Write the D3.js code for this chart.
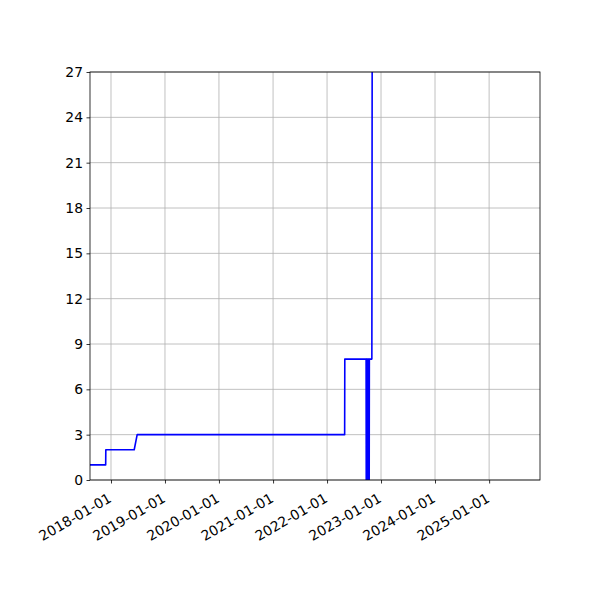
<!DOCTYPE html>
<html>
<head>
<meta charset="utf-8">
<script src="https://cdn.jsdelivr.net/npm/d3@7"></script>
<style>
  body { margin: 0; background: #fff; }
  svg { display: block; }
  .tick text { font-family: "DejaVu Sans", sans-serif; font-size: 13.9px; fill: #000; }
</style>
</head>
<body>
<svg id="chart" width="600" height="600"></svg>
<script>
// step series
const dates = [
  '2017-08-12', '2017-11-26', '2017-11-27', '2018-06-07', '2018-06-27',
  '2022-04-30', '2022-05-01', '2022-09-22', '2022-09-23', '2022-09-25',
  '2022-09-27', '2022-09-29', '2022-10-01', '2022-10-03', '2022-10-05',
  '2022-10-07', '2022-10-09', '2022-10-11', '2022-10-13', '2022-10-14',
  '2022-10-31', '2022-11-03'
]
const values = [
  1, 1, 2, 2, 3,
  3, 8, 8, 0, 8,
  0, 8, 0, 8, 0,
  8, 0, 8, 0, 8,
  8, 36
]
const xDomain = [ '2017-08-12', '2025-12-11' ]
const xTicks = [ '2018-01-01', '2019-01-01', '2020-01-01', '2021-01-01', '2022-01-01', '2023-01-01', '2024-01-01', '2025-01-01' ]
const yTicks = [ 0, 3, 6, 9, 12, 15, 18, 21, 24, 27 ]

const parse = d3.utcParse( '%Y-%m-%d' )
const margin = { top: 72, right: 60, bottom: 120, left: 90 }
const width = 600 - margin.left - margin.right
const height = 600 - margin.top - margin.bottom

const svg = d3.select( '#chart' )
const g = svg.append( 'g' ).attr( 'transform', `translate(${margin.left},${margin.top})` )

const x = d3.scaleUtc().domain( xDomain.map( parse ) ).range( [ 0, width ] )
const y = d3.scaleLinear().domain( [ 0, 27 ] ).range( [ height, 0 ] )

// grid
g.append( 'g' ).selectAll( 'line' ).data( xTicks.map( parse ) ).join( 'line' )
  .attr( 'x1', d => x( d ) ).attr( 'x2', d => x( d ) )
  .attr( 'y1', 0 ).attr( 'y2', height )
  .attr( 'stroke', '#b0b0b0' ).attr( 'stroke-width', 0.8 )
g.append( 'g' ).selectAll( 'line' ).data( yTicks ).join( 'line' )
  .attr( 'x1', 0 ).attr( 'x2', width )
  .attr( 'y1', d => y( d ) ).attr( 'y2', d => y( d ) )
  .attr( 'stroke', '#b0b0b0' ).attr( 'stroke-width', 0.8 )

// line, clipped to the axes box
svg.append( 'defs' ).append( 'clipPath' ).attr( 'id', 'clip' )
  .append( 'rect' ).attr( 'width', width ).attr( 'height', height )

const points = dates.map( ( d, i ) => [ parse( d ), values[i] ] )
g.append( 'path' )
  .datum( points )
  .attr( 'clip-path', 'url(#clip)' )
  .attr( 'fill', 'none' )
  .attr( 'stroke', '#0000ff' )
  .attr( 'stroke-width', 1.6 )
  .attr( 'stroke-linejoin', 'round' )
  .attr( 'd', d3.line().x( d => x( d[0] ) ).y( d => y( d[1] ) ) )

// axes
const xAxis = g.append( 'g' ).attr( 'transform', `translate(0,${height})` )
  .call( d3.axisBottom( x ).tickValues( xTicks.map( parse ) ).tickFormat( d3.utcFormat( '%Y-%m-%d' ) ).tickSize( 3.5 ).tickPadding( 3.5 ) )
xAxis.selectAll( '.tick text' )
  .attr( 'text-anchor', 'end' )
  .attr( 'dy', null )
  .attr( 'y', null )
  .attr( 'transform', 'translate(1,21) rotate(-30)' )

const yAxis = g.append( 'g' )
  .call( d3.axisLeft( y ).tickValues( yTicks ).tickSize( 3.5 ).tickPadding( 3.5 ) )

svg.selectAll( '.domain' ).remove()
svg.selectAll( '.tick line' ).attr( 'stroke', '#000' ).attr( 'stroke-width', 0.8 )
xAxis.attr( 'font-family', null )
yAxis.attr( 'font-family', null )

// spines
g.append( 'rect' )
  .attr( 'width', width ).attr( 'height', height )
  .attr( 'fill', 'none' ).attr( 'stroke', '#000' ).attr( 'stroke-width', 0.8 )
</script>
</body>
</html>
